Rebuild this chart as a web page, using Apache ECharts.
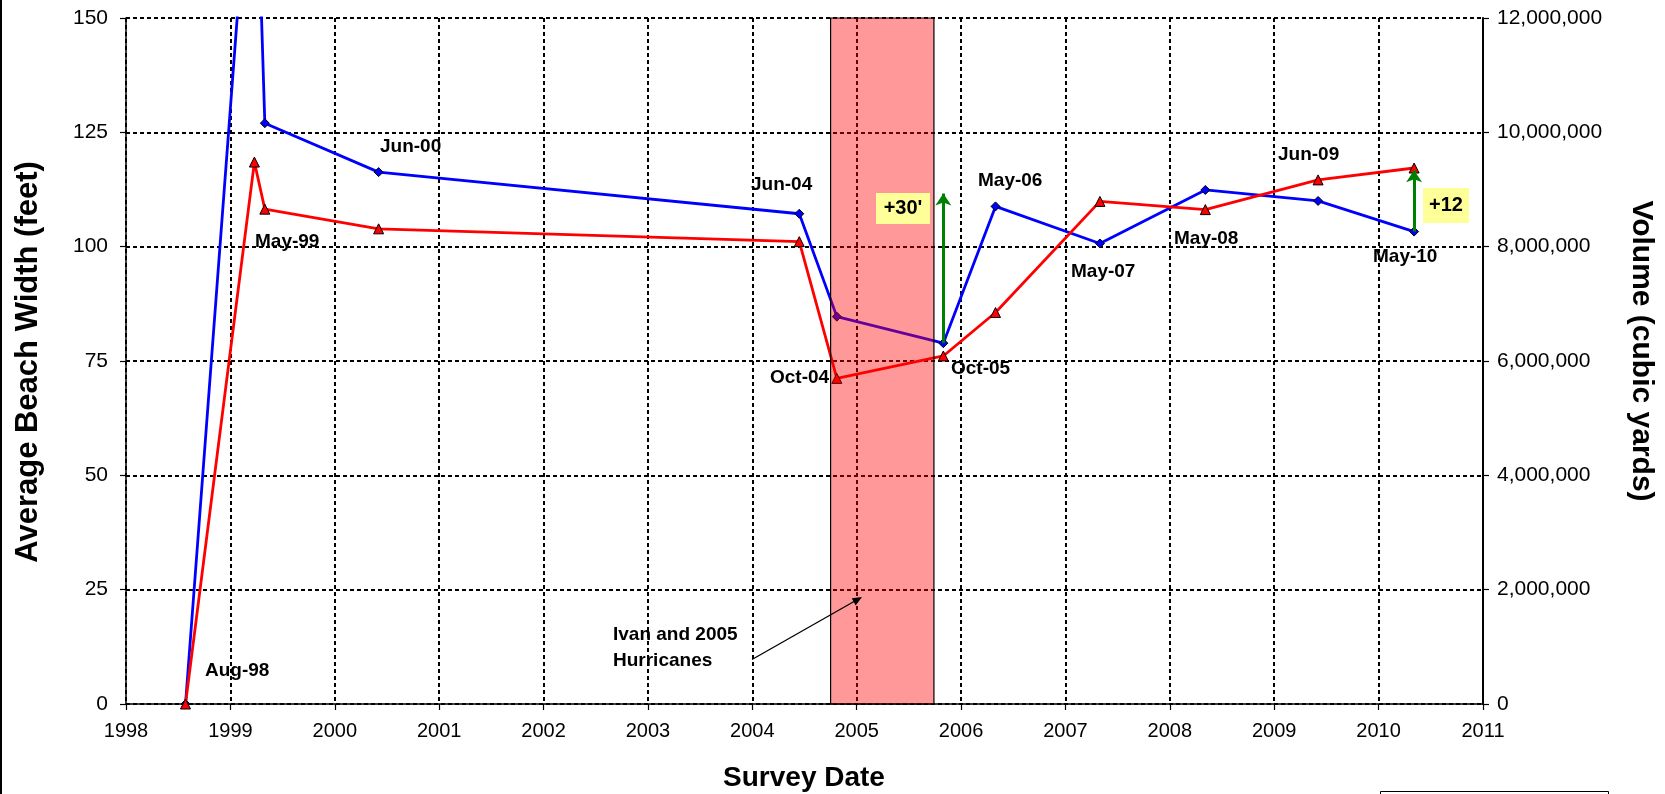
<!DOCTYPE html>
<html><head><meta charset="utf-8">
<script src="https://cdn.jsdelivr.net/npm/echarts@6/dist/echarts.min.js"></script>
<style>html,body{margin:0;padding:0;background:#fff}#c{width:1665px;height:794px}</style>
</head><body><div id="c"></div>
<script>
// ---- data ----
const surveyDates  = [1998.57, 1999.23, 1999.33, 2000.42, 2004.45, 2004.81, 2005.83, 2006.33, 2007.33, 2008.34, 2009.42, 2010.34];
const surveyNames  = ['Aug-98', 'Apr-99', 'May-99', 'Jun-00', 'Jun-04', 'Oct-04', 'Oct-05', 'May-06', 'May-07', 'May-08', 'Jun-09', 'May-10'];
const beachWidthFt = [0, 118.5, 108.2, 103.9, 101.1, 71.2, 76.1, 85.6, 109.9, 108.1, 114.6, 117.2];
const volumeCY     = [0, 16000000, 10160000, 9304000, 8576000, 6776000, 6312000, 8704000, 8056000, 8992000, 8800000, 8264000];
const yearRange    = [1998, 2011];
const widthRange   = [0, 150];
const volumeRange  = [0, 12000000];
const hurricaneSpan = [2004.75, 2005.74];
const gainDates    = [2005.83, 2010.34];
const gainFrom     = [78.9, 103.3];
const gainTo       = [111.6, 116.7];
const gainTexts    = ["+30'", '+12'];

const F = "'Liberation Sans', Arial, sans-serif";
const FN = "'Liberation Sans Narrow', 'Arial Narrow', 'Liberation Sans', Arial, sans-serif";
const chart = echarts.init(document.getElementById('c'), null, {renderer: 'canvas'});

const dotted = {color: '#000', width: 2, type: [4, 3]};

function txt(text, x, y, opts) {
  return Object.assign({type: 'text', x: x, y: y, z: 100,
    style: Object.assign({text: text, fill: '#000', font: 'bold 19px ' + F, textAlign: 'left', textVerticalAlign: 'middle'}, opts || {})});
}

const labelLayout = [
  ['Aug-98', 205, 671], ['May-99', 255, 242], ['Jun-00', 380, 147], ['Jun-04', 751, 185],
  ['Oct-04', 770, 378], ['Oct-05', 951, 369], ['May-06', 978, 181], ['May-07', 1071, 272],
  ['May-08', 1174, 239], ['Jun-09', 1278, 155], ['May-10', 1373, 257]
];

const graphics = [
  {type: 'rect', shape: {x: 0, y: 0, width: 2, height: 794}, style: {fill: '#000'}, z: 100},
  {type: 'rect', shape: {x: 1380.5, y: 791.5, width: 228, height: 20}, style: {fill: '#fff', stroke: '#000', lineWidth: 1}, z: 100},
  {type: 'text', x: 28, y: 362, rotation: Math.PI / 2, z: 100,
   style: {text: 'Average Beach Width (feet)', font: 'bold 31px ' + F, fill: '#000', textAlign: 'center', textVerticalAlign: 'middle'}},
  {type: 'text', x: 1641, y: 351, rotation: -Math.PI / 2, z: 100,
   style: {text: 'Volume (cubic yards)', font: 'bold 30px ' + F, fill: '#000', textAlign: 'center', textVerticalAlign: 'middle'}},
  {type: 'text', x: 804, y: 778, z: 100,
   style: {text: 'Survey Date', font: 'bold 28px ' + F, fill: '#000', textAlign: 'center', textVerticalAlign: 'middle'}},
  txt('Ivan and 2005', 613, 635),
  txt('Hurricanes', 613, 661),
  {type: 'line', shape: {x1: 752, y1: 659.5, x2: 858, y2: 599.3}, style: {stroke: '#000', lineWidth: 1.3}, z: 100},
  {type: 'polygon', shape: {points: [[862, 597], [855.6, 605.4], [851.8, 598.2]]}, style: {fill: '#000'}, z: 100},
  {type: 'rect', shape: {x: 876, y: 193, width: 54, height: 31}, style: {fill: '#FFFF99'}, z: 99},
  txt(gainTexts[0], 903, 208.5, {textAlign: 'center', font: 'bold 20px ' + F}),
  {type: 'rect', shape: {x: 1423, y: 188, width: 46, height: 35}, style: {fill: '#FFFF99'}, z: 99},
  txt(gainTexts[1], 1446, 205.5, {textAlign: 'center', font: 'bold 20px ' + F})
];
labelLayout.forEach(l => graphics.push(txt(l[0], l[1], l[2])));

const option = {
  animation: false,
  backgroundColor: '#fff',
  grid: {left: 126, top: 18, width: 1357, height: 686, containLabel: false},
  xAxis: {
    type: 'value', min: yearRange[0], max: yearRange[1], interval: 1,
    axisLine: {show: true, lineStyle: {color: '#000', width: 1.5}},
    axisTick: {show: true, length: 6, lineStyle: {color: '#000', width: 1.2}},
    axisLabel: {color: '#000', fontSize: 20, fontFamily: FN, margin: 17, formatter: v => String(v)},
    splitLine: {show: true, lineStyle: dotted}
  },
  yAxis: [
    {
      type: 'value', position: 'left', min: widthRange[0], max: widthRange[1], interval: 25,
      axisLine: {show: true, lineStyle: {color: '#000', width: 1.5}},
      axisTick: {show: true, length: 6, lineStyle: {color: '#000', width: 1.2}},
      axisLabel: {color: '#000', fontSize: 21, fontFamily: F, margin: 18},
      splitLine: {show: true, lineStyle: dotted}
    },
    {
      type: 'value', position: 'right', min: volumeRange[0], max: volumeRange[1], interval: 2000000,
      axisLine: {show: true, lineStyle: {color: '#000', width: 2}},
      axisTick: {show: true, length: 6, lineStyle: {color: '#000', width: 1.2}},
      axisLabel: {color: '#000', fontSize: 21, fontFamily: F, margin: 14,
                  formatter: v => Number(v).toLocaleString('en-US')},
      splitLine: {show: false}
    }
  ],
  series: [
    {
      name: 'Volume', type: 'line', yAxisIndex: 1, z: 3, clip: true,
      data: surveyDates.map((d, i) => [d, volumeCY[i]]),
      symbol: 'diamond', symbolSize: 9, showSymbol: true,
      lineStyle: {color: '#0000FF', width: 2.8},
      itemStyle: {color: '#0000FF', borderColor: '#000', borderWidth: 1}
    },
    {
      name: 'Average Beach Width', type: 'line', yAxisIndex: 0, z: 4, clip: true,
      data: surveyDates.map((d, i) => [d, beachWidthFt[i]]),
      symbol: 'triangle', symbolSize: 10, showSymbol: true,
      lineStyle: {color: '#FF0000', width: 2.8},
      itemStyle: {color: '#FF0000', borderColor: '#000', borderWidth: 1}
    },
    {
      name: 'Hurricanes', type: 'line', yAxisIndex: 0, z: 10, data: [],
      markArea: {
        silent: true, z: 10,
        itemStyle: {color: 'rgba(255,0,0,0.4)', borderColor: '#000', borderWidth: 1.2},
        data: [[{xAxis: hurricaneSpan[0], yAxis: widthRange[0]}, {xAxis: hurricaneSpan[1], yAxis: widthRange[1]}]]
      }
    },
    {
      name: 'Gains', type: 'line', yAxisIndex: 0, z: 11, data: [],
      markLine: {
        silent: true, z: 11, symbol: ['none', 'arrow'], symbolSize: 12,
        label: {show: false},
        lineStyle: {color: '#008000', width: 3, type: 'solid'},
        data: gainDates.map((d, i) => [{coord: [d, gainFrom[i]]}, {coord: [d, gainTo[i]]}])
      }
    }
  ],
  graphic: graphics
};
chart.setOption(option);
</script></body></html>
